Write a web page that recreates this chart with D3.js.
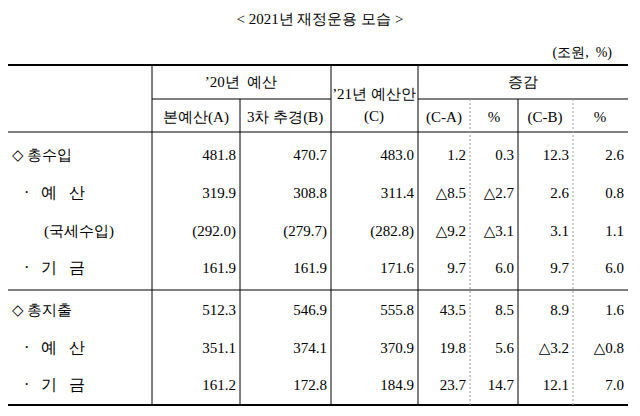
<!DOCTYPE html>
<html><head><meta charset="utf-8">
<script src="https://cdn.jsdelivr.net/npm/d3@7"></script>
<style>body{margin:0;background:#fff} text{white-space:pre}</style>
</head><body>
<div id="viz-container"></div>
<script>
// table data
let rowLabels = ["◇ 총수입", "·   예   산", "(국세수입)", "·   기   금", "◇ 총지출", "·   예   산", "·   기   금"];
let rowIndent = [0, 1, 1, 1, 0, 1, 1];
let budgetA = ["481.8", "319.9", "(292.0)", "161.9", "512.3", "351.1", "161.2"];
let supplB = ["470.7", "308.8", "(279.7)", "161.9", "546.9", "374.1", "172.8"];
let budgetC = ["483.0", "311.4", "(282.8)", "171.6", "555.8", "370.9", "184.9"];
let diffCA = ["1.2", "△8.5", "△9.2", "9.7", "43.5", "19.8", "23.7"];
let pctCA = ["0.3", "△2.7", "△3.1", "6.0", "8.5", "5.6", "14.7"];
let diffCB = ["12.3", "2.6", "3.1", "9.7", "8.9", "△3.2", "12.1"];
let pctCB = ["2.6", "0.8", "1.1", "6.0", "1.6", "△0.8", "7.0"];

let cols = [budgetA, supplB, budgetC, diffCA, pctCA, diffCB, pctCB];
let colEdges = [8, 152, 240, 331, 418, 470, 518, 573, 628];

let viz = d3.select("#viz-container").append("svg")
    .attr("width", 640).attr("height", 416);

let serif = "'Liberation Serif', 'DejaVu Serif', serif";

// row position: two groups with a gap
function rowY(i){ return i < 4 ? 155 + i * 37.8 : 310 + (i - 4) * 37.5; }

viz.append("text").attr("x", 320).attr("y", 24).attr("text-anchor", "middle")
    .style("font-family", serif).style("font-size", "15px")
    .text("< 2021년 재정운용 모습 >");
viz.append("text").attr("x", 612).attr("y", 57).attr("text-anchor", "end")
    .style("font-family", serif).style("font-size", "14px").text("(조원,  %)");

function line(x1, y1, x2, y2, w, dash){
    viz.append("line").attr("x1", x1).attr("y1", y1).attr("x2", x2).attr("y2", y2)
        .attr("stroke", dash ? "#999" : "#000").attr("stroke-width", w)
        .attr("stroke-dasharray", dash ? "2,2" : null);
}
line(8, 65, 628, 65, 2);
line(152, 99, 331, 99, 1);
line(418, 99, 628, 99, 1);
line(8, 132, 628, 132, 1.2);
line(8, 290, 628, 290, 1.2);
line(8, 405, 628, 405, 2);
[152, 331, 418].forEach(x => line(x, 65, x, 405, 1));
[240, 518].forEach(x => line(x, 99, x, 405, 1));
[470, 573].forEach(x => line(x, 99, x, 405, 1, true));

function txt(x, yy, s, anchor, size){
    viz.append("text").attr("x", x).attr("y", yy).attr("text-anchor", anchor || "middle")
        .attr("xml:space", "preserve")
        .style("font-family", serif).style("font-size", (size || 15) + "px").text(s);
}
txt(241, 87, "’20년  예산");
txt(196, 122, "본예산(A)");
txt(285, 122, "3차 추경(B)");
txt(374, 99, "’21년 예산안");
txt(374, 121, "(C)");
txt(523, 87, "증감");
txt(444, 122, "(C-A)");
txt(494, 122, "%");
txt(545, 122, "(C-B)");
txt(600, 122, "%");

// body rows
rowLabels.forEach((lab, i) => {
    let yy = rowY(i) + 5;
    txt(rowIndent[i] ? (i == 2 ? 44 : 24) : 12, yy, lab, "start", rowIndent[i] && i != 2 ? 16 : 15);
});
cols.forEach((col, c) => {
    col.forEach((v, i) => {
        txt(colEdges[c + 2] - 4, rowY(i) + 5, v, "end");
    });
});
</script>
</body></html>
